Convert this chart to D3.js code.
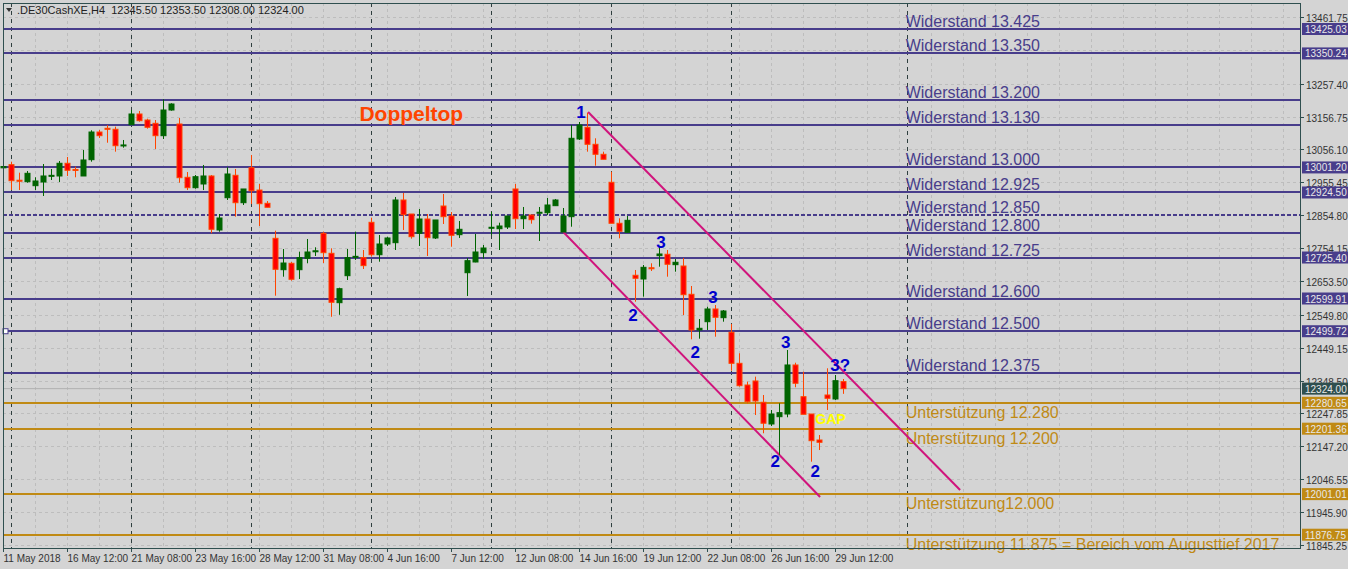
<!DOCTYPE html>
<html>
<head>
<meta charset="utf-8">
<script src="https://cdn.jsdelivr.net/npm/d3@7"></script>
<style>
body { margin: 0; background: #d4d4d4; overflow: hidden; }
svg { display: block; font-family: "Liberation Sans", Arial, sans-serif; }
</style>
</head>
<body>
<svg></svg>
<script>
// H4 bars, 11 May - 29 Jun 2018
var opens  = [13000,13009.6,12962,12957.5,12945.3,12956.6,12974,12975,13013.9,12995,12975,13024.9,13109.6,13121,13118,13067,13132,13164.8,13146.4,13136.3,13098.4,13177,13134.2,12971,12939.2,12950.5,12975,12809.7,12908.5,12977.1,12893.2,13000.4,12932,12891.4,12784.2,12688.1,12707.7,12688.1,12723,12743,12799.6,12738.3,12587.1,12669.8,12726,12725,12833.2,12734,12766.8,12770.8,12901.5,12858.6,12799.6,12843.3,12785.2,12883.1,12852.5,12795.3,12678.9,12711.7,12740.2,12815,12813.6,12818.8,12935.2,12844.2,12855.6,12861,12862.6,12884.1,12803.5,12850.4,13088.3,13124.1,13072,13041.4,12955.7,12830.2,12802.6,12671,12659.6,12694,12731.1,12735.3,12703.5,12699.4,12612.8,12503.5,12528.9,12567.8,12541.2,12496.5,12401.5,12335.1,12347.4,12282.2,12215.7,12238.1,12246.3,12396.4,12299.3,12246.3,12166.7,12304.5,12292.3,12345.5];
var highs  = [13015,13018.8,12985.1,12990.3,12971,13011.7,12996.4,13020.9,13033.2,13003.5,13054.6,13114.9,13115.8,13131.1,13125.9,13085.2,13177,13174,13150.4,13146.4,13209.8,13197.6,13152.5,12987.2,12978,13008.7,12978,12858.6,13001.6,12996.4,12935.2,13039.3,12950.5,12898.4,12807.5,12751.5,12711.7,12743.3,12782.1,12756.7,12804.4,12753.6,12633,12751.5,12804.4,12748.4,12847.3,12794.3,12789.2,12910.7,12922.9,12858.6,12873.9,12858.6,12840.3,12919.9,12864.7,12837.2,12723.9,12797.4,12763.7,12864.7,12832,12852.5,12950.5,12880.1,12855.6,12880.1,12907.6,12904.6,12877,13131.1,13140.3,13168.8,13090.4,13049.4,12988.1,12845.5,12852.5,12687.2,12702.5,12707.7,12758.5,12748.4,12720.9,12723.9,12638.2,12537.2,12574.8,12580,12564.7,12521.9,12432.2,12345.2,12360.6,12304.5,12258.6,12279.1,12442.3,12403.4,12375.9,12246.3,12182,12386.2,12365.7,12353.5];
var lows   = [12993,12932,12932,12954.5,12932,12913.7,12962.7,12956.6,12975,12971,12975,13018.8,13091.3,13076.9,13049.4,13061.6,13132,13141.2,13119.8,13057.7,13088.3,13174.9,12954.5,12932,12936.1,12932,12799.6,12804.4,12901.5,12850.4,12886.2,12889.3,12821.9,12879.2,12608.5,12666.7,12654.5,12659.6,12707.7,12730,12708.6,12544,12550,12656.5,12717.8,12690.2,12728,12712.6,12760.7,12748.4,12809.7,12783.1,12760.7,12730,12782.1,12828,12758.5,12785.2,12607.6,12710.8,12721.8,12794.4,12748.4,12812.7,12812.7,12812.7,12829,12776,12855.6,12884.1,12803.5,12819.7,13085.2,13049.4,13006.5,13026.1,12830.2,12784.2,12802.6,12590.1,12605.5,12684.1,12697.3,12666.7,12682,12549.4,12475,12476.9,12503.5,12483,12528.9,12378.9,12330,12279,12243.2,12187.3,12209.6,12120.9,12236.3,12328.1,12245.4,12100.3,12136,12258.6,12289.2,12308];
var closes = [13004,12960.6,12959,12983.2,12959.7,12975,12977,13013.9,12992.4,12992,13024,13109.6,13098.4,13118,13067.7,13070,13164.8,13144.3,13124.1,13098.4,13177,13195.4,12969.8,12939.2,12972.8,12975,12811.8,12846.4,12981.1,12893.2,12935.2,12929.9,12890.2,12879.2,12689.3,12708.6,12658.7,12725,12742.3,12746,12740.2,12588.3,12629.9,12725,12729,12700.5,12734,12766.8,12785.2,12901.5,12856.5,12789.2,12843.3,12786.1,12840.3,12850.4,12793.4,12811.8,12715.7,12742.3,12754.5,12818,12821.9,12852.5,12844.2,12852.5,12841.2,12864,12886.2,12901.5,12852.5,13090.4,13131.1,13072,13041.4,13026.1,12830.2,12805.7,12839.3,12661.8,12695.4,12691,12736.2,12704.7,12710.8,12611.6,12503.5,12508.7,12567.8,12542.4,12561.7,12401.5,12333,12284,12286.2,12218,12246.3,12250.4,12396.4,12340.4,12245.4,12164.6,12159.7,12294.4,12348.3,12324];

var dateLabels = ["11 May 2018","16 May 12:00","21 May 08:00","23 May 16:00","28 May 12:00","31 May 08:00","4 Jun 16:00","7 Jun 12:00","12 Jun 08:00","14 Jun 16:00","19 Jun 12:00","22 Jun 08:00","26 Jun 16:00","29 Jun 12:00"];
var priceTicks = [13461.75,13257.40,13156.75,13056.10,12955.45,12854.80,12754.15,12653.50,12549.80,12449.15,12348.50,12247.85,12147.20,12046.55,11945.90,11845.25];
var gridPrices = [13461.75,13360.40,13257.40,13156.75,13056.10,12955.45,12854.80,12754.15,12653.50,12549.80,12449.15,12348.50,12247.85,12147.20,12046.55,11945.90,11845.25];
var sessionBars = [1,16,31,46,61,76,91,113];

var resistLevels = [13425.03,13350.24,13207,13131,13001.20,12924.50,12854.80,12800.5,12725.40,12599.91,12499.72,12372];
var resistBoxes  = ["13425.03","13350.24","","","13001.20","12924.50","","","12725.40","12599.91","12499.72",""];
var resistNames  = ["Widerstand 13.425","Widerstand 13.350","Widerstand 13.200","Widerstand 13.130","Widerstand 13.000","Widerstand 12.925","Widerstand 12.850","Widerstand 12.800","Widerstand 12.725","Widerstand 12.600","Widerstand 12.500","Widerstand 12.375"];
var supportLevels = [12280.65,12201.36,12001.01,11876.75];
var supportNames  = ["Unterstützung 12.280","Unterstützung 12.200","Unterstützung12.000","Unterstützung 11.875 = Bereich vom Augusttief 2017"];

var waveText = ["1","3","2","3","2","3","2","2","3?"];
var waveBar  = [72.2,82.2,78.7,88.7,86.5,97.8,96.5,101.5,104.6];
var wavePrice = [13167,12767,12546,12601,12433,12461,12099,12066,12393];

var channelUpper = [[73.1,13170.9],[119.6,12013.7]];
var channelLower = [[70,12803.5],[102.1,11992.3]];

var W = 1348, H = 569, plotR = 1300, plotB = 548;
var axisFont = "Liberation Sans";
var svg = d3.select("svg").attr("width", W).attr("height", H);

var x = d3.scaleLinear().domain([0, 105]).range([3.3, 843.3]);
var y = d3.scaleLinear().domain([11845.25, 13461.75]).range([545, 17]);

svg.append("rect").attr("width", W).attr("height", H).attr("fill", "#d4d4d4");

// grid
var g = svg.append("g");
d3.range(3, plotR, 32).forEach(function (gx) {
    g.append("line").attr("x1", gx + 0.5).attr("x2", gx + 0.5).attr("y1", 3).attr("y2", plotB)
        .attr("stroke", "#bdbdbd").attr("stroke-dasharray", "3,3");
});
gridPrices.forEach(function (p) {
    g.append("line").attr("x1", 3).attr("x2", plotR).attr("y1", Math.round(y(p)) + 0.5).attr("y2", Math.round(y(p)) + 0.5)
        .attr("stroke", "#bdbdbd").attr("stroke-dasharray", "3,3");
});
sessionBars.forEach(function (b) {
    var sx = Math.round(x(b)) + 0.5;
    g.append("line").attr("x1", sx).attr("x2", sx).attr("y1", 3).attr("y2", plotB)
        .attr("stroke", "#2f3f3f").attr("stroke-dasharray", "4,4");
});

// current price line
svg.append("line").attr("x1", 3).attr("x2", plotR).attr("y1", y(12324)).attr("y2", y(12324))
    .attr("stroke", "#b0b0b0");

// levels
resistLevels.forEach(function (p, i) {
    svg.append("line").attr("x1", 3).attr("x2", plotR).attr("y1", Math.round(y(p))).attr("y2", Math.round(y(p)))
        .attr("stroke", "#483d8b").attr("stroke-width", 2)
        .attr("stroke-dasharray", i == 6 ? "4,2" : null);
    svg.append("text").attr("x", x(112.8)).attr("y", y(p) - 2).text(resistNames[i])
        .attr("fill", "#483d8b").attr("font-size", 16);
});
supportLevels.forEach(function (p, i) {
    svg.append("line").attr("x1", 3).attr("x2", plotR).attr("y1", Math.round(y(p))).attr("y2", Math.round(y(p)))
        .attr("stroke", "#c08a14").attr("stroke-width", 2);
    svg.append("text").attr("x", x(112.8)).attr("y", y(p) + 15).text(supportNames[i])
        .attr("fill", "#c08a14").attr("font-size", 16);
});
svg.append("rect").attr("x", 3).attr("y", y(12499.72) - 2.5).attr("width", 5).attr("height", 5)
    .attr("fill", "#fff").attr("stroke", "#483d8b");

// channel
var line = d3.line().x(function (d) { return x(d[0]); }).y(function (d) { return y(d[1]); });
[channelUpper, channelLower].forEach(function (c) {
    svg.append("path").attr("d", line(c)).attr("stroke", "#d0147c").attr("stroke-width", 2).attr("fill", "none");
});

// candles
var candles = svg.append("g");
opens.forEach(function (o, i) {
    var c = closes[i], up = c > o;
    var cx = Math.round(x(i)) + 0.5;
    var col = up ? "#006400" : "#ff4500";
    candles.append("line").attr("x1", cx).attr("x2", cx).attr("y1", y(highs[i])).attr("y2", y(lows[i]))
        .attr("stroke", col);
    var top = y(Math.max(o, c)), bot = y(Math.min(o, c));
    candles.append("rect").attr("x", cx - 2.5).attr("y", top).attr("width", 5).attr("height", Math.max(bot - top, 1))
        .attr("fill", up ? "#006400" : "#ff0000").attr("stroke", col).attr("stroke-width", 1);
});

// annotations
svg.append("text").attr("x", x(51)).attr("y", y(13159)).attr("text-anchor", "middle").attr("dominant-baseline", "middle")
    .attr("font-size", 21).attr("font-weight", "bold").attr("fill", "#ff4500").text("Doppeltop");
waveText.forEach(function (t, i) {
    svg.append("text").attr("x", x(waveBar[i])).attr("y", y(wavePrice[i])).attr("text-anchor", "middle")
        .attr("dominant-baseline", "middle").attr("font-size", 17).attr("font-weight", "bold")
        .attr("fill", "#0000cd").text(t);
});
svg.append("text").attr("x", x(103.4)).attr("y", y(12228)).attr("text-anchor", "middle").attr("dominant-baseline", "middle")
    .attr("font-size", 14).attr("font-weight", "bold").attr("fill", "#ffff00").text("GAP");

// frame
svg.append("rect").attr("x", 3.5).attr("y", 3.5).attr("width", plotR - 3).attr("height", plotB - 3)
    .attr("fill", "none").attr("stroke", "#2f4f4f");

// header
svg.append("path").attr("d", "M6,8 L12,8 L9,12 Z").attr("fill", "#333");
svg.append("text").attr("x", 17).attr("y", 14).attr("font-size", 11).attr("font-family", axisFont)
    .attr("fill", "#222").attr("xml:space", "preserve").text(".DE30CashXE,H4  12345.50 12353.50 12308.00 12324.00");

// price axis
priceTicks.forEach(function (p) {
    var ty = Math.round(y(p)) + 0.5;
    svg.append("line").attr("x1", plotR).attr("x2", plotR + 4).attr("y1", ty).attr("y2", ty).attr("stroke", "#2f4f4f");
    svg.append("text").attr("x", plotR + 6).attr("y", ty + 4).attr("font-size", 10).attr("font-family", axisFont)
        .attr("fill", "#333").text(p.toFixed(2));
});
function priceBox(p, label, col) {
    var by = y(p);
    svg.append("rect").attr("x", plotR + 2).attr("y", by - 6).attr("width", 46).attr("height", 12).attr("fill", col);
    svg.append("text").attr("x", plotR + 5).attr("y", by + 4).attr("font-size", 10).attr("font-family", axisFont)
        .attr("fill", "#e8e8e8").text(label);
}
resistLevels.forEach(function (p, i) { if (resistBoxes[i]) priceBox(p, resistBoxes[i], "#483d8b"); });
supportLevels.forEach(function (p) { priceBox(p, p.toFixed(2), "#c08a14"); });
priceBox(12324, "12324.00", "#2f4f4f");

// time axis
dateLabels.forEach(function (d, k) {
    var tx = Math.round(x(k * 8)) + 0.5;
    svg.append("line").attr("x1", tx).attr("x2", tx).attr("y1", plotB).attr("y2", plotB + 4).attr("stroke", "#2f4f4f");
    svg.append("text").attr("x", tx).attr("y", plotB + 14).attr("font-size", 10).attr("font-family", axisFont)
        .attr("fill", "#333").text(d);
});
</script>
</body>
</html>
